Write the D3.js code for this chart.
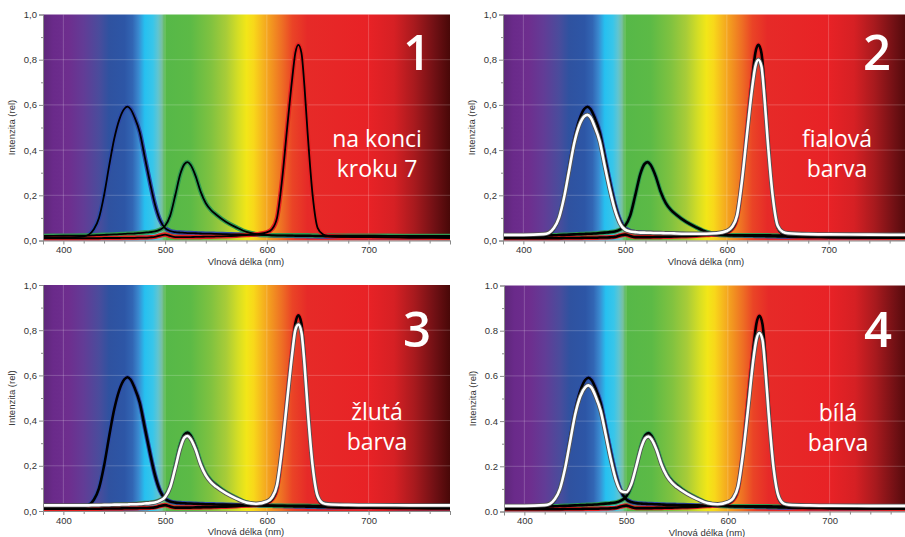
<!DOCTYPE html>
<html>
<head>
<meta charset="utf-8">
<script src="https://cdn.jsdelivr.net/npm/d3@7"></script>
<style>
body{margin:0;background:#fff}
svg{display:block}
.axis text{font-family:"Liberation Sans",Arial,sans-serif;font-size:9.5px;fill:#333}
.axis path,.axis line{stroke:#8a8a8a}
</style>
</head>
<body>
<svg id="chart" width="905" height="537"></svg>
<script>
const nm = [380,400,420,425,430,435,440,445,450,455,460,463,466,470,475,480,485,490,495,500,505,510,515,519,522,525,530,535,540,545,550,560,570,580,590,600,605,610,615,620,625,628,631,634,637,640,645,650,655,660,680,700,740,780];

//Single LED spectra (black curves, the same in all panels)
const ledBlue = [.012,.013,.018,.026,.05,.10,.20,.33,.45,.535,.583,.592,.582,.545,.48,.37,.26,.16,.09,.055,.042,.037,.035,.034,.033,.033,.032,.031,.03,.03,.029,.028,.027,.026,.025,.024,.023,.022,.022,.021,.021,.02,.02,.02,.02,.019,.019,.018,.018,.017,.016,.015,.013,.012];
const ledGreen = [.02,.021,.022,.022,.023,.024,.025,.026,.027,.028,.029,.03,.03,.031,.033,.035,.037,.04,.048,.065,.11,.20,.295,.338,.347,.335,.285,.215,.165,.135,.115,.082,.058,.038,.028,.024,.023,.023,.023,.023,.023,.023,.023,.023,.023,.023,.022,.022,.022,.022,.021,.021,.02,.02];
const ledRed = [.01,.01,.01,.01,.01,.01,.011,.011,.011,.011,.012,.012,.012,.012,.013,.013,.014,.016,.022,.026,.02,.015,.015,.015,.015,.015,.016,.016,.017,.017,.018,.019,.021,.024,.028,.036,.05,.10,.27,.50,.72,.83,.866,.83,.68,.48,.20,.055,.028,.02,.016,.015,.013,.012];

//Mixed colours (white curves)
const mixViolet = [.025,.025,.028,.034,.055,.10,.19,.31,.43,.51,.55,.556,.545,.505,.44,.33,.225,.135,.075,.048,.04,.037,.035,.035,.034,.034,.033,.033,.032,.032,.031,.03,.03,.03,.032,.042,.06,.11,.27,.48,.68,.77,.80,.77,.63,.45,.20,.065,.038,.032,.028,.027,.026,.025];
const mixYellow = [.025,.025,.025,.025,.026,.026,.027,.027,.028,.028,.029,.029,.03,.03,.031,.033,.035,.038,.046,.062,.105,.19,.28,.325,.332,.32,.272,.205,.158,.128,.108,.078,.055,.037,.032,.042,.06,.115,.28,.49,.70,.80,.825,.79,.65,.46,.20,.065,.035,.03,.027,.026,.025,.025];
const mixWhite = [.025,.025,.028,.034,.055,.10,.19,.31,.43,.51,.55,.558,.548,.51,.445,.34,.23,.14,.09,.085,.12,.20,.285,.325,.332,.32,.272,.205,.158,.128,.108,.078,.055,.037,.032,.042,.058,.11,.26,.46,.67,.76,.79,.76,.62,.44,.19,.065,.035,.03,.027,.026,.025,.025];

//Panel texts
const panelNumbers = ["1","2","3","4"];
const panelLabels = [["na konci","kroku 7"],["fialová","barva"],["žlutá","barva"],["bílá","barva"]];
const panelMix = [null, mixViolet, mixYellow, mixWhite];
const decimalMarks = [",", ",", ",", "."];

//Axis ticks
const xTicks = [400,500,600,700];
const xMinor = [420,440,460,480,520,540,560,580,620,640,660,680,720,740,760,780];
const yTicks = [0,0.2,0.4,0.6,0.8,1.0];
const yMinor = [0.1,0.3,0.5,0.7,0.9];

//Background spectrum colours
const spectrumStops = [
  [380,"#5c2878"],[390,"#6a2a8a"],[405,"#6e2e8e"],[420,"#623c96"],[435,"#4a4c9c"],[445,"#2f52a0"],
  [460,"#2d56a6"],[468,"#3266b4"],[474,"#3a8ad0"],[480,"#26c0f0"],[488,"#38c6ea"],[493,"#60c4d0"],
  [497,"#78c0a0"],[500,"#56b848"],[525,"#5cba46"],[545,"#80c240"],[560,"#a8cc38"],[572,"#d6de24"],
  [580,"#f2e618"],[587,"#f8d81a"],[595,"#f6b81e"],[605,"#f29420"],[615,"#ee6e24"],[625,"#ea4426"],
  [640,"#e62a28"],[700,"#e82226"],[725,"#d62024"],[745,"#a81a1e"],[765,"#701014"],[780,"#480808"]
];

const svg = d3.select("#chart");

//Panel placement
const plotW = 407, plotH = 226;
const boxes = [{x:43,y:14.5,row:0},{x:503,y:14.5,row:0},{x:43,y:285,row:1},{x:504,y:285.5,row:1}];

const x = d3.scaleLinear().domain([380,780]).range([0,plotW]);
const y = d3.scaleLinear().domain([0,1]).range([plotH,0]);

//Gradient for the spectrum background
const grad = svg.append("defs").append("linearGradient")
  .attr("id","spec").attr("x1","0").attr("x2","1").attr("y1","0").attr("y2","0");
grad.selectAll("stop").data(spectrumStops).enter().append("stop")
  .attr("offset",d=>((d[0]-380)/400*100)+"%")
  .attr("stop-color",d=>d[1]);

const line = d3.line()
  .x((d,i)=>x(nm[i]))
  .y(d=>y(d))
  .curve(d3.curveMonotoneX);

boxes.forEach((b,p)=>{
  const g = svg.append("g").attr("transform",`translate(${b.x},${b.y})`);

  g.append("rect").attr("width",plotW).attr("height",plotH).attr("fill","url(#spec)");

  //faint grid
  g.selectAll(".gx").data(xTicks).enter().append("line")
    .attr("x1",d=>x(d)).attr("x2",d=>x(d)).attr("y1",0).attr("y2",plotH)
    .attr("stroke","#fff").attr("stroke-opacity",0.2);
  g.selectAll(".gy").data(yTicks.slice(1,5)).enter().append("line")
    .attr("x1",0).attr("x2",plotW).attr("y1",d=>y(d)).attr("y2",d=>y(d))
    .attr("stroke","#fff").attr("stroke-opacity",0.2);

  //single LEDs: coloured halo with black line on top
  const leds = [[ledBlue,"#2d4aa8"],[ledGreen,"#2f9a52"],[ledRed,"#e52222"]];
  const thick = p===0 ? 1.8 : 2.6;
  leds.forEach(l=>{
    g.append("path").attr("d",line(l[0])).attr("fill","none")
      .attr("stroke",l[1]).attr("stroke-width",4.5).attr("stroke-linejoin","round");
  });
  leds.forEach(l=>{
    g.append("path").attr("d",line(l[0])).attr("fill","none")
      .attr("stroke","#000").attr("stroke-width",thick).attr("stroke-linejoin","round");
  });

  //mixed colour curve
  if(panelMix[p]){
    g.append("path").attr("d",line(panelMix[p])).attr("fill","none")
      .attr("stroke","#555").attr("stroke-width",4.4).attr("stroke-linejoin","round");
    g.append("path").attr("d",line(panelMix[p])).attr("fill","none")
      .attr("stroke","#fff").attr("stroke-width",2.6).attr("stroke-linejoin","round");
  }

  //axes
  const dec = decimalMarks[p];
  g.append("g").attr("class","axis")
    .call(d3.axisLeft(y).tickValues(yTicks).tickSize(4).tickPadding(2)
      .tickFormat(d=>d.toFixed(1).replace(".",dec)));
  g.append("g").attr("class","axis")
    .call(d3.axisLeft(y).tickValues(yMinor).tickSize(2).tickFormat(""))
    .select(".domain").remove();
  g.append("g").attr("class","axis").attr("transform",`translate(0,${plotH})`)
    .call(d3.axisBottom(x).tickValues(xTicks).tickSize(4).tickPadding(2).tickFormat(d3.format("d")));
  g.append("g").attr("class","axis").attr("transform",`translate(0,${plotH})`)
    .call(d3.axisBottom(x).tickValues(xMinor).tickSize(3).tickFormat(""))
    .select(".domain").remove();

  //axis titles
  g.append("text")
    .attr("x",203).attr("y",plotH+24)
    .attr("text-anchor","middle")
    .style("font-family","Liberation Sans, Arial, sans-serif").style("font-size","9.5px").style("fill","#333")
    .text("Vlnová délka (nm)");
  g.append("text")
    .attr("transform",`translate(-28,${plotH/2}) rotate(-90)`)
    .attr("text-anchor","middle")
    .style("font-family","Liberation Sans, Arial, sans-serif").style("font-size","9.5px").style("fill","#333")
    .text("Intenzita (rel)");

  //big panel number and caption
  const dy = b.row===0 ? 0 : 6;
  g.append("text")
    .attr("x",374).attr("y",55.5+dy)
    .attr("text-anchor","middle")
    .style("font-family","Open Sans, sans-serif").style("font-weight","600")
    .style("font-size","49px").style("fill","#fff")
    .text(panelNumbers[p]);
  g.selectAll(".cap").data(panelLabels[p]).enter().append("text")
    .attr("x",334).attr("y",(d,i)=>132+dy/2+i*30)
    .attr("text-anchor","middle")
    .style("font-family","Open Sans, sans-serif").style("font-weight","500")
    .style("font-size","23px").style("fill","#fff")
    .text(d=>d);
});
</script>
</body>
</html>
